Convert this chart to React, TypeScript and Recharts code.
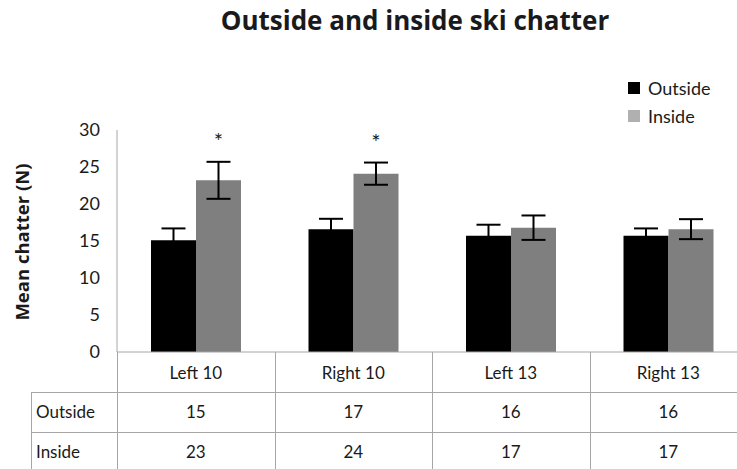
import React from "react";
import { ComposedChart, Bar, XAxis, YAxis, ErrorBar, LabelList } from "recharts";

const categories = ["Left 10", "Right 10", "Left 13", "Right 13"];
const outside = [15.1, 16.6, 15.7, 15.7];
const outsideErr = [1.6, 1.4, 1.5, 1.0];
const inside = [23.2, 24.1, 16.8, 16.6];
const insideErr = [2.5, 1.5, 1.65, 1.35];
const significance = ["*", "*", "", ""];
const yTicks = [0, 5, 10, 15, 20, 25, 30];
const seriesNames = ["Outside", "Inside"];
const legendColors = ["#000000", "#b0b0b0"];

const data = categories.map((c, i) => ({
  name: c,
  outside: outside[i],
  outsideErr: outsideErr[i],
  inside: inside[i],
  insideErr: insideErr[i],
  sig: significance[i],
}));

const FONT = "Lato, 'Open Sans', sans-serif";
const TITLE_FONT = "'Open Sans', sans-serif";
const LINE = "#a6a6a6";
const TEXT = "#1a1a1a";

// table geometry (matches plot: left 117, columns 157.5 wide)
const PLOT_LEFT = 117;
const COL_W = 157.5;
const AXIS_Y = 352;

function SigLabel(props: any) {
  const { x, y, width, height, index } = props;
  const s = significance[index];
  if (!s) return null;
  const errPx = (insideErr[index] / inside[index]) * height;
  return (
    <text x={x + width / 2} y={y - errPx - 13} textAnchor="middle" fontSize={22} fontFamily={FONT} fill={TEXT}>
      {s}
    </text>
  );
}

export default function App() {
  const rows = [
    { label: "Outside", values: outside },
    { label: "Inside", values: inside },
  ];
  return (
    <div style={{ position: "fixed", left: 0, top: 0, width: 737, height: 469, overflow: "hidden", background: "#fff" }}>
      <div
        style={{
          position: "absolute",
          left: 0,
          width: 830,
          top: 2,
          textAlign: "center",
          fontFamily: TITLE_FONT,
          fontWeight: 700,
          fontSize: 26,
          color: TEXT,
        }}
      >
        Outside and inside ski chatter
      </div>
      <div
        style={{
          position: "absolute",
          left: 21,
          top: 242,
          transform: "translate(-50%, -50%) rotate(-90deg)",
          whiteSpace: "nowrap",
          fontFamily: TITLE_FONT,
          fontWeight: 700,
          fontSize: 18.5,
          color: TEXT,
        }}
      >
        Mean chatter (N)
      </div>
      <div style={{ position: "absolute", left: 628, top: 74, fontFamily: FONT, fontSize: 18, color: TEXT }}>
        {seriesNames.map((n, i) => (
          <div key={n} style={{ display: "flex", alignItems: "center", height: 28 }}>
            <span style={{ width: 12, height: 12, background: legendColors[i], marginRight: 8, display: "inline-block" }} />
            {n}
          </div>
        ))}
      </div>
      <ComposedChart
        width={760}
        height={469}
        data={data}
        margin={{ top: 130, right: 13, bottom: 77, left: 0 }}
        barGap={0}
        style={{ position: "absolute", left: 0, top: 0 }}
      >
        <XAxis
          dataKey="name"
          tickLine={false}
          axisLine={{ stroke: LINE }}
          tickSize={0}
          tickMargin={15}
          height={40}
          tick={{ fontSize: 17, fill: TEXT, fontFamily: FONT }}
        />
        <YAxis
          domain={[0, 30]}
          ticks={yTicks}
          width={117}
          tickLine={false}
          tickSize={0}
          tickMargin={17}
          axisLine={{ stroke: LINE }}
          tick={{ fontSize: 18, fill: TEXT, fontFamily: FONT }}
        />
        <Bar dataKey="outside" name="Outside" fill="#000000" barSize={45} isAnimationActive={false}>
          <ErrorBar dataKey="outsideErr" width={12} stroke="#000" strokeWidth={2} />
        </Bar>
        <Bar dataKey="inside" name="Inside" fill="#7f7f7f" barSize={45} isAnimationActive={false}>
          <ErrorBar dataKey="insideErr" width={12} stroke="#000" strokeWidth={2} />
          <LabelList dataKey="sig" content={<SigLabel />} />
        </Bar>
      </ComposedChart>
      {/* data table below the axis */}
      <div style={{ position: "absolute", left: 0, top: 0, width: 760, height: 469, pointerEvents: "none" }}>
        {[0, 1, 2, 3].map((i) => (
          <div
            key={"v" + i}
            style={{
              position: "absolute",
              left: PLOT_LEFT + i * COL_W,
              top: AXIS_Y,
              width: 1,
              height: 469 - AXIS_Y,
              background: LINE,
            }}
          />
        ))}
        <div style={{ position: "absolute", left: 31, top: 392, width: 1, height: 77, background: LINE }} />
        <div style={{ position: "absolute", left: 31, top: 392, width: 730, height: 1, background: LINE }} />
        <div style={{ position: "absolute", left: 31, top: 432, width: 730, height: 1, background: LINE }} />
        {rows.map((r, ri) => (
          <React.Fragment key={r.label}>
            <div
              style={{
                position: "absolute",
                left: 36,
                top: 392 + ri * 40,
                height: 40,
                lineHeight: "40px",
                fontFamily: FONT,
                fontSize: 17,
                color: TEXT,
              }}
            >
              {r.label}
            </div>
            {r.values.map((v, ci) => (
              <div
                key={ci}
                style={{
                  position: "absolute",
                  left: PLOT_LEFT + ci * COL_W,
                  width: COL_W,
                  top: 392 + ri * 40,
                  height: 40,
                  lineHeight: "40px",
                  textAlign: "center",
                  fontFamily: FONT,
                  fontSize: 17,
                  color: TEXT,
                }}
              >
                {Math.round(v)}
              </div>
            ))}
          </React.Fragment>
        ))}
      </div>
    </div>
  );
}
